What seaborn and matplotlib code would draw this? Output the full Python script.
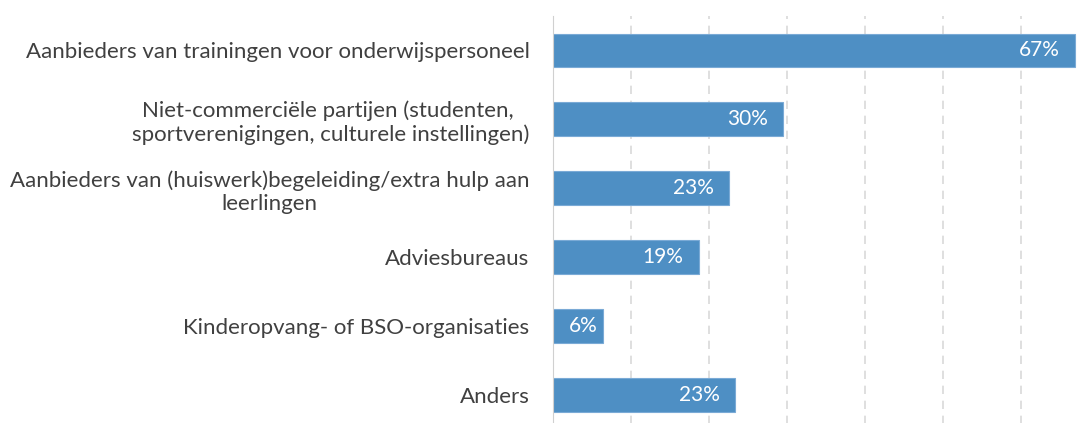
import matplotlib
matplotlib.use('Agg')
import matplotlib.pyplot as plt
import seaborn as sns
import pandas as pd

plt.rcParams['font.family'] = ['Lato', 'DejaVu Sans']

labels = ['Aanbieders van trainingen voor onderwijspersoneel',
          'Niet-commerciële partijen (studenten, \nsportverenigingen, culturele instellingen)',
          'Aanbieders van (huiswerk)begeleiding/extra hulp aan\nleerlingen',
          'Adviesbureaus',
          'Kinderopvang- of BSO-organisaties',
          'Anders']
values = [0.669, 0.295, 0.226, 0.187, 0.064, 0.233]
df = pd.DataFrame({'label': labels, 'value': values})

fig = plt.figure(figsize=(10.87, 4.23), dpi=100)
ax = fig.add_axes([553/1087, -6.5/423, (1087-553)/1087, 413.5/423])
sns.barplot(data=df, x='value', y='label', color='#4E8FC4', saturation=1, width=0.49,
            edgecolor='#7AAAD6', linewidth=0.8, ax=ax, zorder=3)

for i, v in enumerate(values):
    off = -11 if v > 0.1 else -4  # small bar: label sits closer to the end
    ax.annotate('{:.0f}%'.format(v*100), xy=(v, i), xytext=(off, 0),
                textcoords='offset points', ha='right', va='center',
                color='white', fontsize=15)

ax.set_xlim(0, 0.6846)
ax.set_xticks([0.1, 0.2, 0.3, 0.4, 0.5, 0.6])
ax.xaxis.grid(True, color='#D9D9D9', linestyle=(0, (5, 4)), linewidth=1.2, zorder=0)
ax.set_xticklabels([])
ax.tick_params(axis='x', length=0)
ax.tick_params(axis='y', length=0, pad=17, labelsize=16, labelcolor='#404040')
for t in ax.get_yticklabels():
    t.set_multialignment('center')
plt.xlabel('')
plt.ylabel('')
for s in ['top', 'right', 'bottom']:
    ax.spines[s].set_visible(False)
ax.spines['left'].set_color('#D0D0D0')
ax.spines['left'].set_zorder(4)

plt.savefig('out.png', dpi=100)
